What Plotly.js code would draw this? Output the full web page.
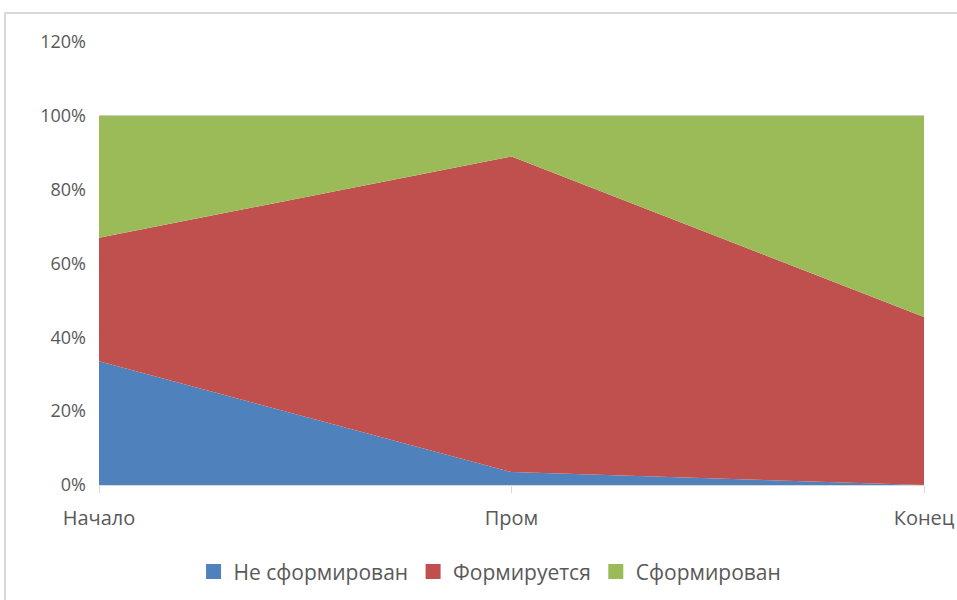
<!DOCTYPE html>
<html>
<head>
<meta charset="utf-8">
<script src="https://cdn.plot.ly/plotly-3.0.1.min.js"></script>
<style>
  html, body { margin: 0; padding: 0; background: #fff; overflow: hidden; }
  #chart { width: 957px; height: 600px; }
  #frame { position: absolute; left: 4px; top: 12px; width: 1000px; height: 700px;
           border: 2px solid #d9d9d9; pointer-events: none; }
</style>
</head>
<body>
<div id="chart"></div>
<div id="frame"></div>
<script>
const categories = ["Начало", "Пром", "Конец"];
const notFormed = [33.5, 3.5, 0];
const forming = [33.5, 85.5, 45.5];
const formed = [33, 11, 54.5];
const seriesNames = ["Не сформирован", "Формируется", "Сформирован"];
const colors = ["#4f81bd", "#c0504d", "#9bbb59"];

const xs = categories.map((c, i) => i);
const series = [notFormed, forming, formed];
const traces = series.map((vals, k) => ({
  type: "scatter",
  mode: "lines",
  x: xs,
  y: vals.map(v => v / 100),
  name: seriesNames[k],
  stackgroup: "one",
  line: { width: 0, color: colors[k] },
  fillcolor: colors[k],
  showlegend: false,
  hoverinfo: "name+y"
}));
// legend entries with square swatches
const legendTraces = seriesNames.map((n, k) => ({
  type: "scatter",
  mode: "markers",
  x: [null],
  y: [null],
  name: n,
  marker: { symbol: "square", size: 15, color: colors[k] },
  showlegend: true
}));

const font = { family: "Open Sans, DejaVu Sans, sans-serif", size: 18, color: "#595959" };
const xfont = { family: "Open Sans, DejaVu Sans, sans-serif", size: 20, color: "#595959" };
const lfont = { family: "Open Sans, DejaVu Sans, sans-serif", size: 21, color: "#595959" };

Plotly.newPlot("chart", traces.concat(legendTraces), {
  width: 957, height: 600,
  margin: { l: 99, r: 33, t: 42, b: 115 },
  paper_bgcolor: "#fff",
  plot_bgcolor: "#fff",
  font: font,
  showlegend: true,
  legend: {
    orientation: "h", x: 0.474, xanchor: "center",
    yref: "container", y: 0.047, yanchor: "middle",
    font: lfont, traceorder: "normal", itemwidth: 30
  },
  xaxis: {
    range: [0, 2],
    tickvals: xs,
    ticktext: categories,
    showgrid: false,
    zeroline: false,
    showline: true,
    linecolor: "#d9d9d9",
    linewidth: 1,
    ticks: "outside",
    ticklen: 7,
    tickcolor: "#d9d9d9",
    ticklabelstandoff: 8,
    tickfont: xfont,
    automargin: false,
    fixedrange: true
  },
  yaxis: {
    range: [0, 1.2],
    tickvals: [0, 0.2, 0.4, 0.6, 0.8, 1.0, 1.2],
    tickformat: ".0%",
    showgrid: true,
    gridcolor: "#d9d9d9",
    gridwidth: 1,
    zeroline: false,
    showline: false,
    ticks: "",
    ticklabelstandoff: 12,
    tickfont: font,
    automargin: false,
    fixedrange: true
  }
}, { displayModeBar: false, staticPlot: true });
</script>
</body>
</html>
